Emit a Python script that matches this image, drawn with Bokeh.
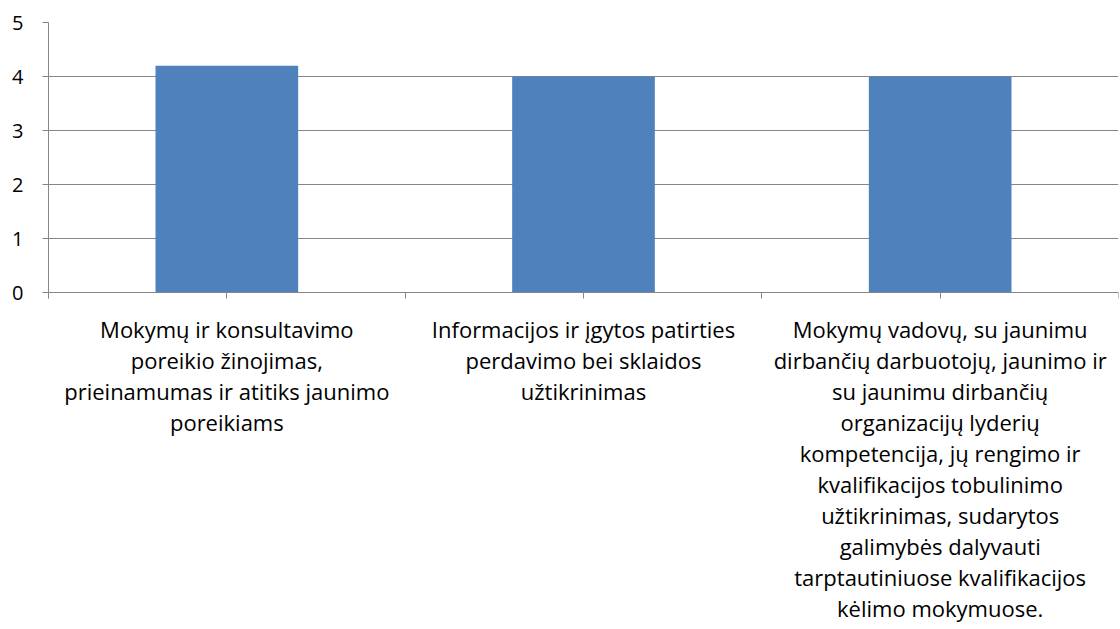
from bokeh.plotting import figure
from bokeh.models import Range1d, FixedTicker, ColumnDataSource
from bokeh.core.properties import value
from bokeh.embed import file_html
from bokeh.resources import INLINE

categories = [
    "Mokymų ir konsultavimo\nporeikio žinojimas,\nprieinamumas ir atitiks jaunimo\nporeikiams",
    "Informacijos ir įgytos patirties\nperdavimo bei sklaidos\nužtikrinimas",
    "Mokymų vadovų, su jaunimu\ndirbančių darbuotojų, jaunimo ir\nsu jaunimu dirbančių\norganizacijų lyderių\nkompetencija, jų rengimo ir\nkvalifikacijos tobulinimo\nužtikrinimas, sudarytos\ngalimybės dalyvauti\ntarptautiniuose kvalifikacijos\nkėlimo mokymuose.",
]
values = [4.2, 4.0, 4.0]
y_ticks = [0, 1, 2, 3, 4, 5]

# layout
W, H = 1120, 629
top, left, right = 22, 48, 2
px_per_unit = 54.0
frame_h = H - top
y_max = 5
y_min = y_max - frame_h / px_per_unit
label_top = -(313 - (top + 5 * px_per_unit)) / px_per_unit

FONT = "Open Sans"
GRAY = "#868686"

xs = [i + 0.5 for i in range(len(categories))]
src = ColumnDataSource(dict(x=xs, top=values, label=categories,
                            ly=[label_top] * len(xs)))

p = figure(width=W, height=H, output_backend="svg", toolbar_location=None,
           x_range=Range1d(0, len(categories)), y_range=Range1d(y_min, y_max),
           min_border_top=top, min_border_left=left, min_border_right=right,
           min_border_bottom=0)
p.outline_line_color = None
p.background_fill_color = "white"
p.border_fill_color = "white"

p.vbar(x="x", top="top", bottom=0, width=0.4, source=src,
       fill_color="#4F81BD", line_color=None)

p.text(x="x", y="ly", text="label", source=src, text_align="center",
       text_baseline="top", text_font=value(FONT), text_font_size="22px",
       text_color="black", text_line_height=1.035)

# y axis
ya = p.yaxis[0]
ya.ticker = FixedTicker(ticks=y_ticks)
ya.bounds = (-6 / px_per_unit, 5)
ya.axis_line_color = GRAY
ya.major_tick_line_color = GRAY
ya.major_tick_out = 6
ya.major_tick_in = 0
ya.minor_tick_line_color = None
ya.major_label_text_font = FONT
ya.major_label_text_font_size = "20px"
ya.major_label_text_color = "black"
ya.major_label_standoff = 19

# x axis
xa = p.xaxis[0]
xa.fixed_location = 0
xa.ticker = FixedTicker(ticks=[i * 0.5 for i in range(2 * len(categories) + 1)])
xa.axis_line_color = GRAY
xa.major_tick_line_color = GRAY
xa.major_tick_out = 6
xa.major_tick_in = 0
xa.minor_tick_line_color = None
xa.major_label_text_font_size = "0px"
xa.major_label_text_alpha = 0

p.xgrid.grid_line_color = None
p.ygrid.ticker = FixedTicker(ticks=y_ticks)
p.ygrid.grid_line_color = GRAY
p.ygrid.grid_line_width = 1

open("out.html", "w").write(file_html(p, INLINE))
